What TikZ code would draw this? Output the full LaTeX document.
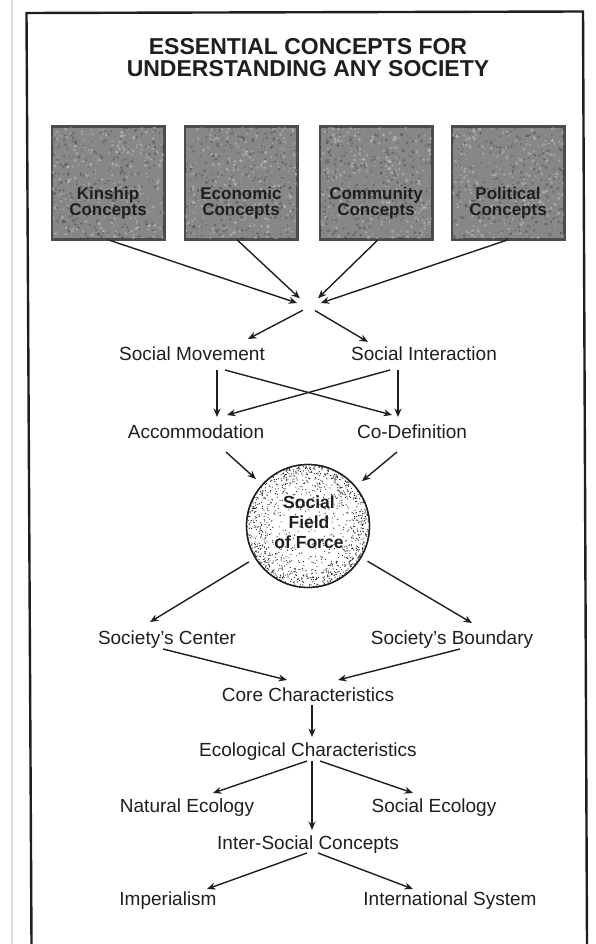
\documentclass[tikz,border=0pt]{standalone}
\usepackage{fontspec}
\setmainfont{Liberation Sans}
\usetikzlibrary{arrows.meta,calc}

\definecolor{ink}{gray}{0.12}
\definecolor{boxgray}{gray}{0.53}
\definecolor{boxedge}{gray}{0.30}

\tikzset{
  arr/.style={draw=ink, line width=1.4pt, -{Stealth[length=8.5pt,width=7pt]}},
  lbl/.style={font=\fontsize{19}{22}\selectfont, text=ink, inner sep=0pt,
              text height=13.6pt, text depth=0pt, anchor=center},
  conceptbox/.style={draw=boxedge, line width=1.5pt, fill=boxgray,
              minimum width=112pt, minimum height=112pt, inner sep=0pt},
  boxtext/.style={font=\bfseries\fontsize{17}{16.5}\selectfont, text=ink,
              align=center, inner sep=0pt},
  titletext/.style={font=\bfseries\fontsize{23}{21.5}\selectfont, text=ink,
              align=center, inner sep=0pt},
  fieldtext/.style={font=\bfseries\fontsize{17.5}{20}\selectfont, text=ink,
              align=center, inner sep=0pt},
}

% mottled grey surface inside a concept box
\newcommand\mottle[3]{% #1 node name, #2/#3 centre
  \begin{scope}
    \clip (#1.south west) rectangle (#1.north east);
    \foreach \i in {1,...,300}{
      \pgfmathsetmacro\sx{#2-56+112*rnd}
      \pgfmathsetmacro\sy{#3-56+112*rnd}
      \pgfmathsetmacro\sr{0.5+1.3*rnd}
      \fill[white, opacity=0.26] (\sx,\sy) circle (\sr pt);
    }
    \foreach \i in {1,...,300}{
      \pgfmathsetmacro\sx{#2-56+112*rnd}
      \pgfmathsetmacro\sy{#3-56+112*rnd}
      \pgfmathsetmacro\sr{0.5+1.2*rnd}
      \fill[black, opacity=0.22] (\sx,\sy) circle (\sr pt);
    }
  \end{scope}
  \draw[boxedge, line width=1.5pt] (#1.south west) rectangle (#1.north east);
}

\begin{document}
\begin{tikzpicture}[x=1pt,y=-1pt]
  \pgfmathsetseed{4242}
  \useasboundingbox (0,0) rectangle (595,944);
  \fill[white] (0,0) rectangle (595,944);

  % page edge and frame
  \draw[gray!28, line width=2pt] (12,0) -- (12,944);
  \draw[ink, line width=2.4pt, line join=miter] (31.5,944) -- (26.5,13) -- (583,11.5) -- (587,944);

  % title
  \node[titletext] (title) at (308,57.5) {ESSENTIAL CONCEPTS FOR\\UNDERSTANDING ANY SOCIETY};

  % four concept boxes
  \node[conceptbox] (k) at (108,183) {};
  \node[conceptbox] (e) at (241,183) {};
  \node[conceptbox] (c) at (376,183) {};
  \node[conceptbox] (p) at (508,183) {};
  \mottle{k}{108}{183}
  \mottle{e}{241}{183}
  \mottle{c}{376}{183}
  \mottle{p}{508}{183}
  \node[boxtext] (kt) at (108,203) {Kinship\\Concepts};
  \node[boxtext] (et) at (241,203) {Economic\\Concepts};
  \node[boxtext] (ct) at (376,203) {Community\\Concepts};
  \node[boxtext] (pt) at (508,203) {Political\\Concepts};

  % meeting point of the four concept groups
  \coordinate (hub) at (309,307);

  % labels
  \node[lbl] (sm) at (192,354) {Social Movement};
  \node[lbl] (si) at (424,354) {Social Interaction};
  \node[lbl] (acc) at (196,432) {Accommodation};
  \node[lbl] (cod) at (412,432) {Co-Definition};
  \node[lbl] (sc) at (167,638) {Society's Center};
  \node[lbl] (sb) at (452,638) {Society's Boundary};
  \node[lbl] (core) at (308,695) {Core Characteristics};
  \node[lbl] (eco) at (308,750) {Ecological Characteristics};
  \node[lbl] (nat) at (187,806) {Natural Ecology};
  \node[lbl] (soc) at (434,806) {Social Ecology};
  \node[lbl] (inter) at (308,843) {Inter-Social Concepts};
  \node[lbl] (imp) at (168,899) {Imperialism};
  \node[lbl] (isys) at (450,899) {International System};

  % social field of force: stippled sphere
  \node[circle, draw=ink, line width=1.3pt, fill=white, minimum size=123pt, inner sep=0pt] (sf) at (308,526) {};
  \begin{scope}
    \clip (308,526) circle (61pt);
    \foreach \i in {1,...,260}{
      \pgfmathsetmacro\rr{60*sqrt(rnd)}
      \pgfmathsetmacro\aa{360*rnd}
      \fill[ink] ([shift={(\aa:\rr)}]sf.center) circle (0.55pt);
    }
    \foreach \i in {1,...,900}{
      \pgfmathsetmacro\rr{61*rnd^0.2}
      \pgfmathsetmacro\aa{360*rnd}
      \fill[ink] ([shift={(\aa:\rr)}]sf.center) circle (0.6pt);
    }
  \end{scope}
  \draw[ink, line width=1.3pt] (sf.center) circle (61.5pt);
  \node[fieldtext] (sft) at (309,522) {Social\\Field\\of Force};

  % concept groups converge
  \draw[arr, shorten >=12.5pt] (k.south) -- (hub);
  \draw[arr, shorten >=12.5pt] ([xshift=-4pt]e.south) -- (hub);
  \draw[arr, shorten >=12.5pt] ([xshift=2pt]c.south) -- (hub);
  \draw[arr, shorten >=12.5pt] (p.south) -- (hub);

  % and divide into movement and interaction
  \draw[arr, shorten <=7pt] (hub) -- ([shift={(56,-15)}]sm.center);
  \draw[arr, shorten <=7pt] (hub) -- ([shift={(-56,-12)}]si.center);

  % crossing links
  \draw[arr] ([shift={(25,16)}]sm.center) -- ([shift={(21,-15)}]acc.center);
  \draw[arr] ([shift={(33,16)}]sm.center) -- ([shift={(-20,-17)}]cod.center);
  \draw[arr] ([shift={(-34,16)}]si.center) -- ([shift={(31,-17)}]acc.center);
  \draw[arr] ([shift={(-26,16)}]si.center) -- ([shift={(-14,-15)}]cod.center);

  % into the field of force
  \draw[arr, shorten >=8pt] ([shift={(30,20)}]acc.center) -- (sf);
  \draw[arr, shorten >=8pt] ([shift={(-15,20)}]cod.center) -- (sf);

  % out of the field of force
  \draw[arr, shorten <=7pt] (sf) -- ([shift={(-17,-16)}]sc.center);
  \draw[arr, shorten <=7pt] (sf) -- ([shift={(20,-15)}]sb.center);

  % centre and boundary to core
  \draw[arr] ([shift={(-4,11)}]sc.center) -- ([shift={(-21,-15)}]core.center);
  \draw[arr] ([shift={(8,11)}]sb.center) -- ([shift={(30,-15)}]core.center);
  \draw[arr] ([shift={(4,10)}]core.center) -- ([shift={(4,-13)}]eco.center);

  % ecology
  \draw[arr] ([shift={(-1,11)}]eco.center) -- ([shift={(26,-13)}]nat.center);
  \draw[arr] ([shift={(12,11)}]eco.center) -- ([shift={(-21,-13)}]soc.center);
  \draw[arr] ([shift={(4,11)}]eco.center) -- ([shift={(4,-13)}]inter.center);

  % inter-social
  \draw[arr] ([shift={(-1,10)}]inter.center) -- ([shift={(39,-10)}]imp.center);
  \draw[arr] ([shift={(10,10)}]inter.center) -- ([shift={(-37,-10)}]isys.center);
\end{tikzpicture}
\end{document}
